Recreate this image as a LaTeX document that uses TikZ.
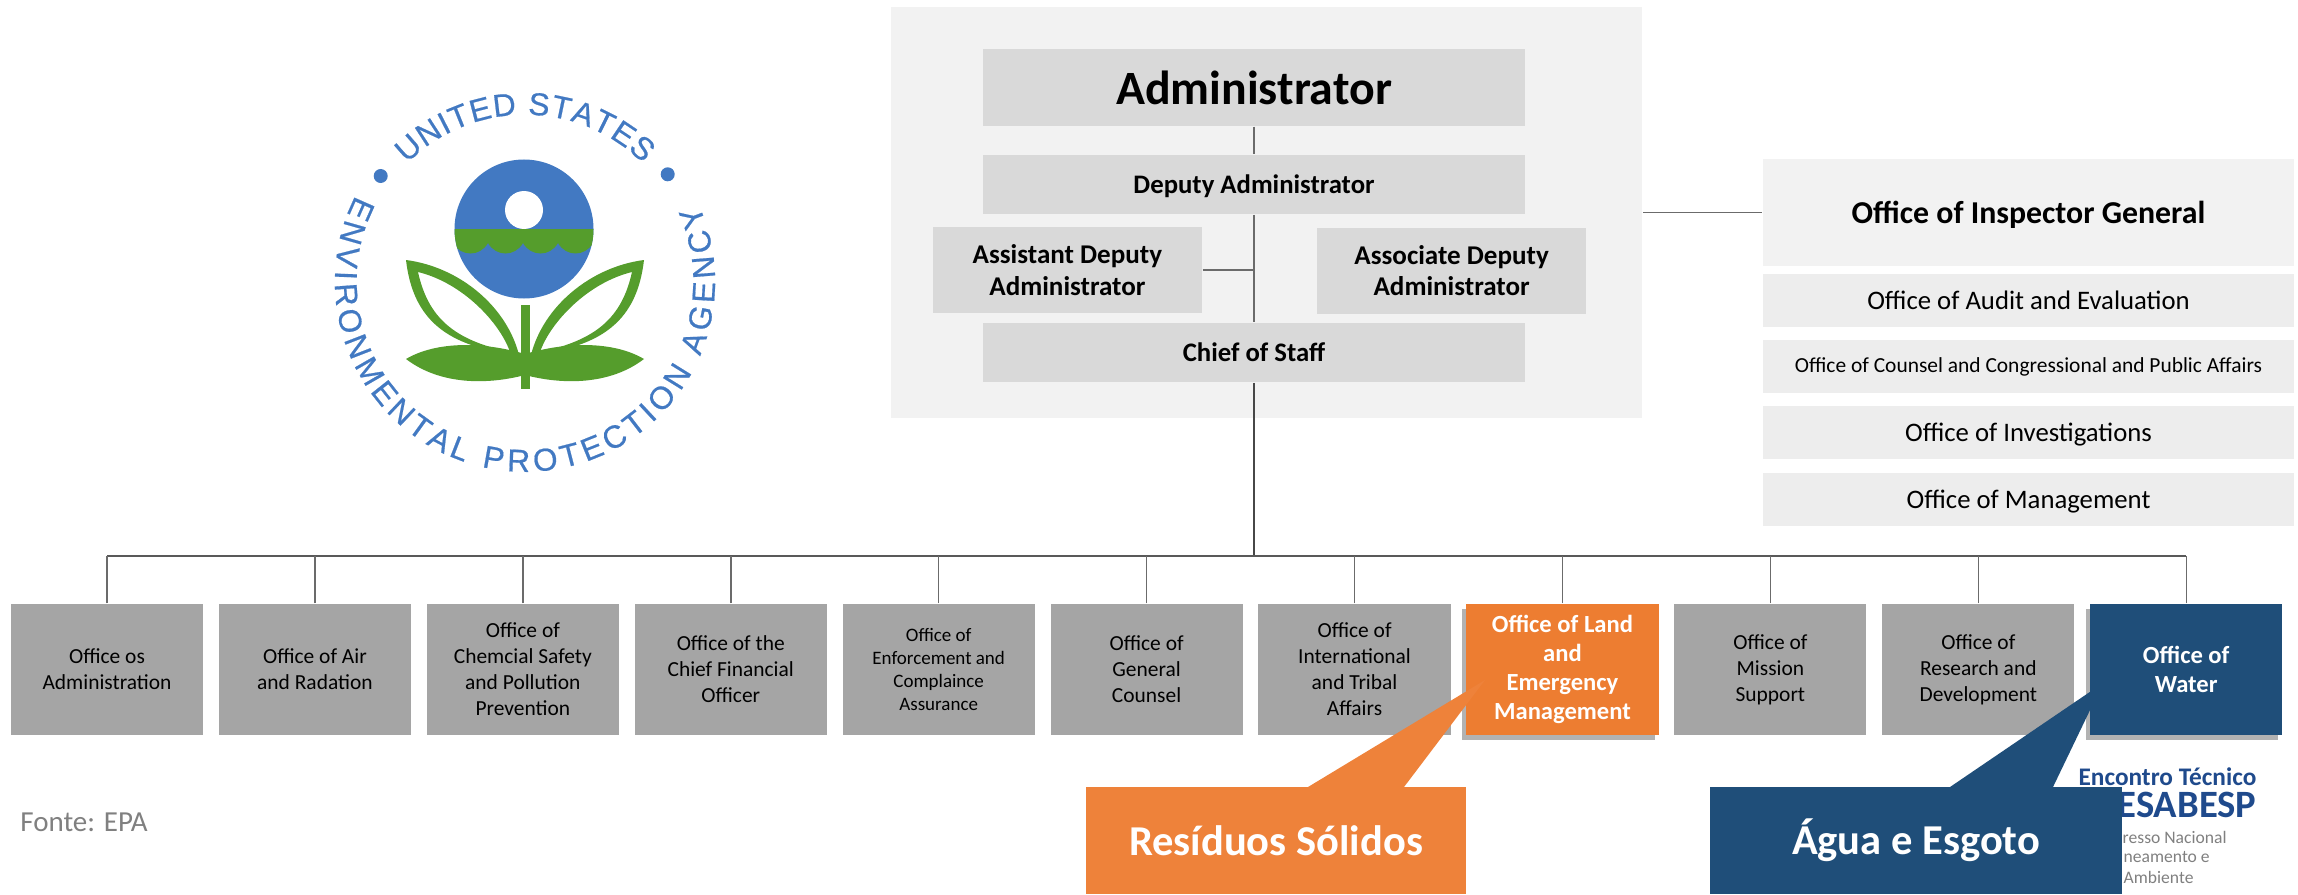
\documentclass[tikz,border=0pt]{standalone}
\usepackage{fontspec}
\setmainfont{Carlito}
\newfontfamily\logofam[FakeBold=.6]{Liberation Sans}
\usetikzlibrary{shadows,decorations.text}

\definecolor{panelgray}{HTML}{F2F2F2}
\definecolor{innergray}{HTML}{D9D9D9}
\definecolor{sidegray}{HTML}{EDEDED}
\definecolor{officegray}{HTML}{A5A5A5}
\definecolor{landorange}{HTML}{ED7D31}
\definecolor{solidorange}{HTML}{EE823A}
\definecolor{waterblue}{HTML}{1F4E79}
\definecolor{epablue}{HTML}{4279C2}
\definecolor{epagreen}{HTML}{559D2C}
\definecolor{sabespblue}{HTML}{1F4A8C}

\tikzset{
  sizedbox/.style={inner sep=0pt,align=center,minimum width=#1},
  panelbox/.style={fill=panelgray,inner sep=0pt,minimum width=7.51cm,minimum height=4.11cm},
  topbox/.style={sizedbox=5.41cm,fill=innergray,minimum height=.59cm,font=\fontsize{7.6}{9.4}\selectfont\bfseries},
  sidebox/.style={sizedbox=2.69cm,fill=innergray,minimum height=.86cm,font=\fontsize{7.7}{8.9}\selectfont\bfseries},
  officebox/.style={sizedbox=1.92cm,fill=officegray,minimum height=1.31cm,font=\fontsize{6.1}{7.4}\selectfont},
  mainoffice/.style={sizedbox=1.92cm,minimum height=1.31cm,text=white,font=\fontsize{7}{8.3}\selectfont\bfseries,
    drop shadow={shadow xshift=-.04cm,shadow yshift=-.05cm,fill=black,opacity=.3}},
  inspbox/.style={sizedbox=5.31cm,fill=sidegray,minimum height=.53cm,font=\fontsize{7.6}{9}\selectfont},
  bigcallout/.style={sizedbox=#1,minimum height=1.07cm,text=white,font=\fontsize{12.1}{14}\selectfont\bfseries},
  conn/.style={draw=black!58,line width=.42pt},
  ringtext/.style={decorate,decoration={text along path,text align={fit to path},text={#1}}}
}

\begin{document}
\begin{tikzpicture}[x=.01cm,y=-.01cm,node distance=1cm]
  \useasboundingbox (0,0) rectangle (2298,894);

  % logo
  \fill[epablue] (524,229) circle (69.5);
  \begin{scope}
    \clip (524,229) circle (69.5);
    \fill[epagreen] (440,229) -- (610,229) -- (610,243) -- (593,243)
      .. controls (585,257) and (566,257) .. (558,243)
      .. controls (550,257) and (531,257) .. (523,243)
      .. controls (515,257) and (496,257) .. (488,243)
      .. controls (480,257) and (461,257) .. (453,243) -- (440,243) -- cycle;
  \end{scope}
  \fill[white] (524,210) circle (19);
  \fill[epagreen] (521,305) rectangle (530,389);
  \foreach \side in {1,-1} {
    \begin{scope}[shift={(525,0)},xscale=\side]
      \fill[epagreen,even odd rule] (-119,260) .. controls (-65,267) and (-18,307) .. (-6,355)
        .. controls (-78,347) and (-112,320) .. (-119,260) -- cycle
        (-107,272) .. controls (-62,283) and (-25,323) .. (-15,352)
        .. controls (-72,340) and (-97,317) .. (-107,272) -- cycle;
      \fill[epagreen] (-119,359) .. controls (-92,343) and (-48,340) .. (0,354) -- (0,375)
        .. controls (-38,385) and (-85,385) .. (-119,359) -- cycle;
    \end{scope}
  }
  \fill[epablue] (380.7,176) circle (7) (667.7,174.3) circle (7);
  \path[ringtext={|\logofam\fontsize{9}{10}\selectfont\color{epablue}|UNITED STATES}]
    (525,281.7) ++(-135:167) arc[start angle=-135,end angle=-45,radius=167];
  \path[ringtext={|\logofam\fontsize{9}{10}\selectfont\color{epablue}|ENVIRONMENTAL PROTECTION AGENCY}]
    (525,281.7) ++(-153:190) arc[start angle=-153,end angle=-384,radius=190];

  % front office
  \node[panelbox] (panel) at (1266.5,212.5) {};
  \node[topbox,minimum height=.77cm,font=\fontsize{13.6}{16}\selectfont\bfseries] (admin) at (1254,87.5) {Administrator};
  \node[topbox,text depth=0pt,below of=admin,yshift=.03cm] (deputy) {Deputy Administrator};
  \node[topbox,below of=deputy,yshift=-.68cm] (chief) {Chief of Staff};
  \node[sidebox,below of=deputy,xshift=-1.865cm,yshift=.145cm] (assistant) {Assistant Deputy\\Administrator};
  \node[sidebox,below of=deputy,xshift=1.975cm,yshift=.14cm] (associate) {Associate Deputy\\Administrator};

  % inspector general
  \node[inspbox,text depth=0pt,fill=panelgray,minimum height=1.07cm,font=\fontsize{9.05}{11}\selectfont\bfseries] (insp) at (2028.5,212.5) {Office of Inspector General};
  \node[inspbox,below of=insp,yshift=.12cm] (audit) {Office of Audit and Evaluation};
  \node[inspbox,below of=audit,yshift=.34cm,font=\fontsize{6.1}{7.4}\selectfont] (counsel) {Office of Counsel and Congressional and Public Affairs};
  \node[inspbox,text depth=0pt,below of=counsel,yshift=.34cm] (invest) {Office of Investigations};
  \node[inspbox,text depth=0pt,below of=invest,yshift=.33cm] (mgmt) {Office of Management};

  % offices
  \node[officebox] (off1) at (107,669.5) {Office os\\Administration};
  \node[officebox,right of=off1,xshift=1.078cm] (off2) {Office of Air\\and Radation};
  \node[officebox,right of=off2,xshift=1.078cm] (off3) {Office of\\Chemcial Safety\\and Pollution\\Prevention};
  \node[officebox,right of=off3,xshift=1.078cm] (off4) {Office of the\\Chief Financial\\Officer};
  \node[officebox,right of=off4,xshift=1.078cm,font=\fontsize{5.4}{6.6}\selectfont] (off5) {Office of\\Enforcement and\\Complaince\\Assurance};
  \node[officebox,right of=off5,xshift=1.078cm] (off6) {Office of\\General\\Counsel};
  \node[officebox,right of=off6,xshift=1.078cm] (off7) {Office of\\International\\and Tribal\\Affairs};
  \node[mainoffice,fill=landorange,right of=off7,xshift=1.078cm] (off8) {Office of Land\\and\\Emergency\\Management};
  \node[officebox,right of=off8,xshift=1.078cm] (off9) {Office of\\Mission\\Support};
  \node[officebox,right of=off9,xshift=1.078cm] (off10) {Office of\\Research and\\Development};
  \node[mainoffice,fill=waterblue,right of=off10,xshift=1.078cm] (off11) {Office of\\Water};

  \coordinate[above of=off1,yshift=.135cm] (busl);
  \coordinate[above of=off11,yshift=.135cm] (busr);

  \draw[conn] (admin) -- (deputy);
  \draw[conn] (deputy) -- (chief);
  \draw[conn] (assistant.east) -- (assistant.east -| deputy);
  \draw[conn] (panel.east |- insp.west) -- (insp.west);
  \draw[conn,draw=black!72] (chief.south) -- (chief.south |- busl);
  \draw[conn,draw=black!65,line width=.5pt] (busl) -- (busr);
  \draw[conn] (off1.north) -- (busl);
  \draw[conn] (off2.north) -- (off2.north |- busl);
  \draw[conn] (off3.north) -- (off3.north |- busl);
  \draw[conn] (off4.north) -- (off4.north |- busl);
  \draw[conn] (off5.north) -- (off5.north |- busl);
  \draw[conn] (off6.north) -- (off6.north |- busl);
  \draw[conn] (off7.north) -- (off7.north |- busl);
  \draw[conn] (off8.north) -- (off8.north |- busl);
  \draw[conn] (off9.north) -- (off9.north |- busl);
  \draw[conn] (off10.north) -- (off10.north |- busl);
  \draw[conn] (off11.north) -- (busr);

  \node[text=black!50,font=\fontsize{8.25}{10}\selectfont] (source) at (84,822) {Fonte: EPA};

  % encontro tecnico, cut off by the blue box
  \node[text=sabespblue,font=\fontsize{7.2}{9}\selectfont\bfseries,anchor=east,inner sep=0pt] (enc) at (2257,777) {Encontro Técnico};
  \node[text=sabespblue,font=\fontsize{11}{13}\selectfont\bfseries,anchor=east,inner sep=0pt] (sabesp) at (2257,805) {ESABESP};
  \node[text=black!50,font=\fontsize{5}{7}\selectfont,anchor=west,inner sep=0pt] (cong1) at (2122,837) {resso Nacional};
  \node[text=black!50,font=\fontsize{5}{7}\selectfont,anchor=west,inner sep=0pt] (cong2) at (2123,857) {neamento e};
  \node[text=black!50,font=\fontsize{5}{7}\selectfont,anchor=west,inner sep=0pt] (cong3) at (2123,877) {Ambiente};

  % callouts
  \node[bigcallout=3.8cm,fill=solidorange] (solid) at (1276,840.5) {Resíduos Sólidos};
  \node[bigcallout=4.12cm,fill=waterblue] (agua) at (1916,840.5) {Água e Esgoto};
  \fill[solidorange] (1308,787) -- (1485,680) -- (1404,787) -- cycle;
  \fill[waterblue] (1950,787) -- (2103,683) -- (2053,787) -- cycle;
\end{tikzpicture}
\end{document}
